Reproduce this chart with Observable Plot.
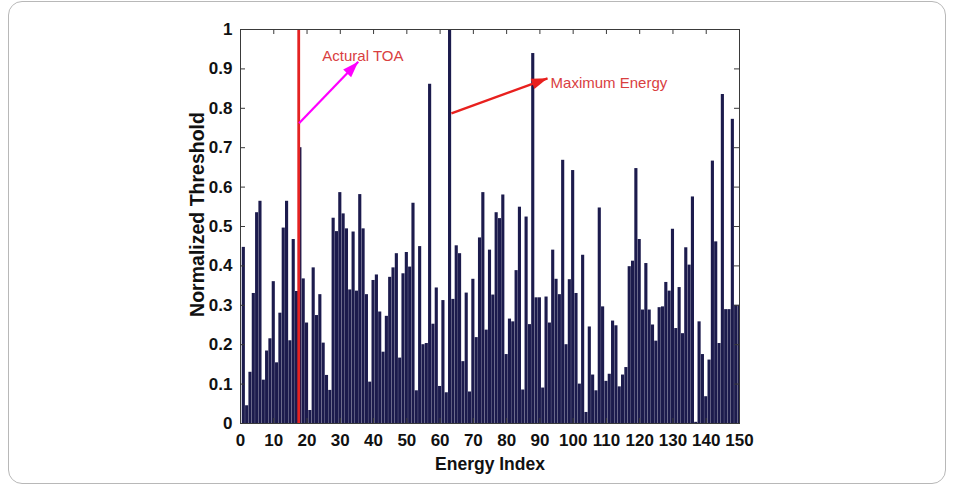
<!DOCTYPE html>
<html>
<head>
<meta charset="utf-8">
<script src="https://cdn.jsdelivr.net/npm/d3@7"></script>
<script src="https://cdn.jsdelivr.net/npm/@observablehq/plot@0.6"></script>
<style>
  html, body { margin: 0; padding: 0; background: #fff; }
  #frame { position: relative; width: 953px; height: 488px; overflow: hidden; }
  #border { position: absolute; left: 8px; top: 1px; width: 936px; height: 481px;
            border: 1px solid #b8b8b8; border-radius: 14px; pointer-events: none; }
  #chart svg rect { shape-rendering: geometricPrecision; }
</style>
</head>
<body>
<div id="frame"><div id="chart"></div><div id="border"></div></div>
<script>
// Normalized threshold of each energy block (index 1..150)
const thresholds = [
  0.447, 0.045, 0.13, 0.33, 0.535, 0.564, 0.11, 0.184, 0.215, 0.36,
  0.154, 0.28, 0.496, 0.564, 0.21, 0.467, 0.335, 0.70, 0.367, 0.255,
  0.033, 0.395, 0.274, 0.327, 0.204, 0.122, 0.084, 0.521, 0.487, 0.586,
  0.532, 0.494, 0.339, 0.486, 0.336, 0.581, 0.494, 0.327, 0.105, 0.363,
  0.377, 0.283, 0.181, 0.272, 0.371, 0.395, 0.431, 0.166, 0.380, 0.434,
  0.397, 0.559, 0.083, 0.449, 0.20, 0.203, 0.861, 0.252, 0.344, 0.094,
  0.312, 0.078, 1.0, 0.315, 0.451, 0.431, 0.157, 0.331, 0.08, 0.366,
  0.218, 0.471, 0.586, 0.237, 0.44, 0.326, 0.535, 0.52, 0.58, 0.175,
  0.265, 0.258, 0.388, 0.549, 0.085, 0.524, 0.251, 0.939, 0.319, 0.319,
  0.09, 0.321, 0.255, 0.44, 0.366, 0.327, 0.668, 0.20, 0.365, 0.642,
  0.33, 0.10, 0.427, 0.028, 0.245, 0.123, 0.083, 0.547, 0.296, 0.107,
  0.125, 0.26, 0.248, 0.093, 0.123, 0.142, 0.398, 0.412, 0.647, 0.467,
  0.288, 0.406, 0.288, 0.25, 0.209, 0.294, 0.296, 0.358, 0.336, 0.493,
  0.241, 0.345, 0.228, 0.446, 0.402, 0.575, 0.003, 0.258, 0.175, 0.068,
  0.161, 0.666, 0.461, 0.203, 0.835, 0.289, 0.289, 0.772, 0.30, 0.30
];
const energyIndex = thresholds.map((_, i) => i + 1);

const xTicks = [0, 10, 20, 30, 40, 50, 60, 70, 80, 90, 100, 110, 120, 130, 140, 150];
const yTicks = [0, 0.1, 0.2, 0.3, 0.4, 0.5, 0.6, 0.7, 0.8, 0.9, 1];

// Actual time of arrival (energy index)
const toaIndex = [17.5];

// Annotation arrows (start -> tip, in data units)
const arrowStarts = [[17.6, 0.762], [63.4, 0.787]];
const arrowTips = [[35.4, 0.918], [92.3, 0.876]];
const arrowColors = ["#ff00ff", "#e8201e"];
const arrowWidths = [2.2, 2.4];

// Annotation labels
const noteText = ["Actural TOA", "Maximum Energy"];
const notePos = [[24.6, 0.931], [93.2, 0.863]];

const bars = energyIndex.map((k, i) => ({k, v: thresholds[i]}));
const arrows = arrowStarts.map((s, i) => ({
  x1: s[0], y1: s[1], x2: arrowTips[i][0], y2: arrowTips[i][1],
  color: arrowColors[i], w: arrowWidths[i]
}));
const notes = noteText.map((t, i) => ({t, x: notePos[i][0], y: notePos[i][1]}));

// Filled triangular arrow head
const filledHead = (color) => {
  const m = document.createElementNS("http://www.w3.org/2000/svg", "marker");
  m.setAttribute("viewBox", "-9 -9 18 18");
  m.setAttribute("markerWidth", 18);
  m.setAttribute("markerHeight", 18);
  m.setAttribute("markerUnits", "userSpaceOnUse");
  m.setAttribute("refX", 8);
  m.setAttribute("orient", "auto");
  const p = document.createElementNS("http://www.w3.org/2000/svg", "path");
  p.setAttribute("d", "M-8,-5.5L8,0L-8,5.5Z");
  p.setAttribute("fill", color);
  p.setAttribute("stroke", "none");
  m.appendChild(p);
  return m;
};

const plotH = 488 - 29 - 65;
const plotW = 953 - 240 - 214;
const tickLen = 5;
const axisColor = "#3a3a3a";

const chart = Plot.plot({
  width: 953,
  height: 488,
  marginLeft: 240,
  marginRight: 214,
  marginTop: 29,
  marginBottom: 65,
  style: {
    fontFamily: "'Liberation Sans', Arial, Helvetica, sans-serif",
    fontSize: "17px",
    fontWeight: "bold",
    color: "#111",
    background: "#fff",
    overflow: "visible"
  },
  x: {domain: [0, 150], axis: null},
  y: {domain: [0, 1], axis: null},
  marks: [
    Plot.rectY(bars, {
      x1: d => d.k - 0.47, x2: d => d.k + 0.47, y1: 0, y2: "v",
      fill: "#1c1b4d", clip: true
    }),
    Plot.ruleX(toaIndex, {x: d => d, stroke: "#e42222", strokeWidth: 2.8}),
    Plot.link(arrows, {
      x1: "x1", y1: "y1", x2: "x2", y2: "y2",
      stroke: d => d.color, strokeWidth: d => d.w,
      markerEnd: filledHead
    }),
    Plot.text(notes, {
      x: "x", y: "y", text: "t", textAnchor: "start",
      fill: "#d9403f", fontSize: 15, fontWeight: "normal"
    }),
    Plot.frame({stroke: axisColor, strokeWidth: 1}),
    // inward tick marks on all four sides
    Plot.ruleX(xTicks, {x: d => d, insetTop: plotH - tickLen, stroke: axisColor}),
    Plot.ruleX(xTicks, {x: d => d, insetBottom: plotH - tickLen, stroke: axisColor}),
    Plot.ruleY(yTicks, {y: d => d, insetRight: plotW - tickLen, stroke: axisColor}),
    Plot.ruleY(yTicks, {y: d => d, insetLeft: plotW - tickLen, stroke: axisColor}),
    Plot.axisX({ticks: xTicks, tickSize: 0, tickPadding: 10, label: null, fill: "#111",
                tickFormat: d => String(d)}),
    Plot.axisY({ticks: yTicks, tickSize: 0, tickPadding: 8, label: null, fill: "#111",
                tickFormat: d => String(d)}),
    Plot.text(["Energy Index"], {
      frameAnchor: "bottom", dy: 46, text: d => d, fontSize: 17.5, fontWeight: "bold", fill: "#111"
    }),
    Plot.text(["Normalized Threshold"], {
      frameAnchor: "left", dx: -43, dy: -12, rotate: -90, textAnchor: "middle",
      text: d => d, fontSize: 19.5, fontWeight: "bold", fill: "#111"
    })
  ]
});

document.getElementById("chart").appendChild(chart);
</script>
</body>
</html>
